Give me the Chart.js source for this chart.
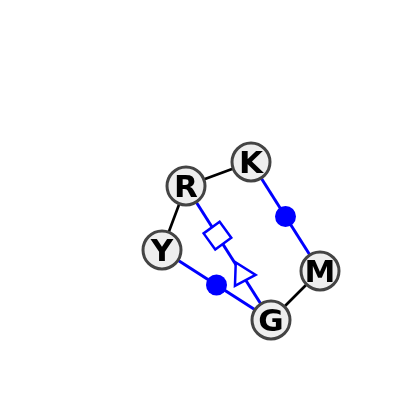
<!DOCTYPE html>
<html>
<head>
<meta charset="utf-8">
<script src="https://cdn.jsdelivr.net/npm/chart.js@4"></script>
<style>
  html, body { margin: 0; padding: 0; background: #fff; }
  #wrap { width: 400px; height: 400px; }
</style>
</head>
<body>
<div id="wrap"><canvas id="graph" width="400" height="400"></canvas></div>
<script>
// node layout (picture coordinates, y down)
const nodeNames = ['K', 'R', 'Y', 'G', 'M'];
const nodeX = [251, 186, 162, 271, 320];
const nodeY = [162, 186, 250, 320, 271];

// edges as [from, to] with colour
const edgeFrom = ['R', 'R', 'G', 'K', 'Y', 'R'];
const edgeTo = ['K', 'Y', 'M', 'M', 'G', 'G'];
const edgeColor = ['#000000', '#000000', '#000000', '#0000ff', '#0000ff', '#0000ff'];

// markers sitting on edges: edge index, fraction along edge, style
const markerEdge = [3, 4, 5, 5];
const markerT = [0.5, 0.5, 0.37, 0.66];
const markerStyle = ['circle', 'circle', 'rect', 'triangle'];
const markerFilled = [true, true, false, false];
const markerRot = [0, 0, 54, 92];
const markerSize = [10.5, 10.5, 14, 13.5];

const BLUE = '#0000ff';

function pos(name) {
  const i = nodeNames.indexOf(name);
  return { x: nodeX[i], y: nodeY[i] };
}

const datasets = [];

// edges
edgeFrom.forEach((f, i) => {
  datasets.push({
    type: 'line',
    data: [pos(f), pos(edgeTo[i])],
    borderColor: edgeColor[i],
    borderWidth: edgeColor[i] === BLUE ? 3 : 2.7,
    pointRadius: 0,
    showLine: true,
    order: 3
  });
});

// markers on edges
markerEdge.forEach((e, i) => {
  const a = pos(edgeFrom[e]), b = pos(edgeTo[e]);
  const t = markerT[i];
  datasets.push({
    type: 'scatter',
    data: [{ x: a.x + (b.x - a.x) * t, y: a.y + (b.y - a.y) * t }],
    pointStyle: markerStyle[i],
    pointRotation: markerRot[i],
    pointRadius: markerSize[i],
    pointBackgroundColor: markerFilled[i] ? BLUE : '#ffffff',
    pointBorderColor: BLUE,
    pointBorderWidth: markerFilled[i] ? 0 : 2.5,
    order: 2
  });
});

// nodes
datasets.push({
  type: 'scatter',
  data: nodeNames.map((n, i) => ({ x: nodeX[i], y: nodeY[i] })),
  pointRadius: 19,
  pointBackgroundColor: '#eeeeee',
  pointBorderColor: '#444444',
  pointBorderWidth: 3,
  order: 1
});

const labelPlugin = {
  id: 'nodeLabels',
  afterDatasetsDraw(chart) {
    const ctx = chart.ctx;
    const xs = chart.scales.x, ys = chart.scales.y;
    const size = 31;
    ctx.save();
    ctx.fillStyle = '#000';
    ctx.font = "bold " + size + "px 'DejaVu Sans'";
    ctx.textAlign = 'center';
    ctx.textBaseline = 'alphabetic';
    nodeNames.forEach((n, i) => {
      // centre the capitals on the node
      ctx.fillText(n, xs.getPixelForValue(nodeX[i]), ys.getPixelForValue(nodeY[i]) + size * 0.364);
    });
    ctx.restore();
  }
};

new Chart(document.getElementById('graph'), {
  type: 'scatter',
  data: { datasets },
  options: {
    responsive: false,
    animation: false,
    layout: { padding: 0, autoPadding: false },
    plugins: { legend: { display: false }, tooltip: { enabled: false } },
    scales: {
      x: { type: 'linear', min: 0, max: 400, display: false },
      y: { type: 'linear', min: 0, max: 400, reverse: true, display: false }
    }
  },
  plugins: [labelPlugin]
});
</script>
</body>
</html>
